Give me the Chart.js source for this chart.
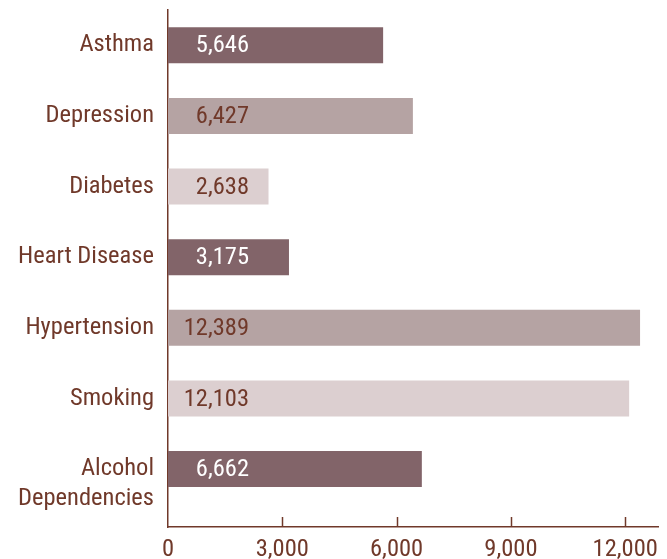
<!DOCTYPE html>
<html>
<head>
<meta charset="utf-8">
<script src="https://cdn.jsdelivr.net/npm/chart.js@4"></script>
<style>
  html, body { margin: 0; padding: 0; background: #fff; }
  #wrap { width: 667px; height: 559px; }
</style>
</head>
<body>
<div id="wrap"><canvas id="myChart"></canvas></div>
<script>
// conditions and counts
var labels = ['Asthma', 'Depression', 'Diabetes', 'Heart Disease', 'Hypertension', 'Smoking', 'Alcohol Dependencies'];
var counts = [5646, 6427, 2638, 3175, 12389, 12103, 6662];
var xTicks = [0, 3000, 6000, 9000, 12000];

var dark = '#826469';
var mid = '#b5a3a3';
var light = '#dccfd0';
var barColors = [dark, mid, light, dark, mid, light, dark];
var brown = '#70392a';
var fontName = "'Roboto Condensed', Roboto, sans-serif";
var fontSize = 24.5;

// value text inside each bar
var valueLabels = {
  id: 'valueLabels',
  afterDatasetsDraw(chart) {
    const ctx = chart.ctx;
    const meta = chart.getDatasetMeta(0);
    const x0 = chart.scales.x.getPixelForValue(0);
    ctx.save();
    ctx.font = fontSize + 'px ' + fontName;
    ctx.textAlign = 'right';
    ctx.textBaseline = 'middle';
    meta.data.forEach((bar, i) => {
      ctx.fillStyle = barColors[i] == dark ? '#ffffff' : brown;
      ctx.fillText(counts[i].toLocaleString('en-US'), x0 + 81, bar.y + 1);
    });
    ctx.restore();
  }
};

// small tick marks pointing up from the x axis
var innerTicks = {
  id: 'innerTicks',
  afterDraw(chart) {
    const ctx = chart.ctx;
    const xs = chart.scales.x;
    const bottom = chart.chartArea.bottom;
    ctx.save();
    ctx.strokeStyle = brown;
    ctx.lineWidth = 1.5;
    xTicks.forEach(v => {
      if (v == 0) return;
      const px = Math.round(xs.getPixelForValue(v)) + 0.5;
      ctx.beginPath();
      ctx.moveTo(px, bottom - 10);
      ctx.lineTo(px, bottom);
      ctx.stroke();
    });
    ctx.restore();
  }
};

var points = counts.map((v, i) => ({ x: v, y: i }));

var myChart = new Chart(document.getElementById('myChart').getContext('2d'), {
  type: 'bar',
  data: {
    datasets: [{
      data: points,
      backgroundColor: barColors,
      borderWidth: 0,
      categoryPercentage: 1,
      barPercentage: 0.51
    }]
  },
  options: {
    indexAxis: 'y',
    responsive: true,
    maintainAspectRatio: false,
    animation: false,
    layout: { padding: { top: 10, right: 9, left: 0, bottom: 0 } },
    plugins: {
      legend: { display: false },
      tooltip: { enabled: false }
    },
    scales: {
      x: {
        type: 'linear',
        min: 0,
        max: 12860,
        afterBuildTicks: s => { s.ticks = xTicks.map(v => ({ value: v })); },
        afterFit: s => { s.height = 32; },
        grid: { display: false, drawTicks: false },
        border: { display: true, color: brown, width: 1.5 },
        ticks: {
          padding: 8,
          color: brown,
          font: { family: fontName, size: fontSize },
          callback: v => v.toLocaleString('en-US')
        }
      },
      y: {
        type: 'linear',
        reverse: true,
        offset: false,
        min: -0.5,
        max: 6.82,
        afterBuildTicks: s => { s.ticks = labels.map((l, i) => ({ value: i })); },
        afterFit: s => { s.width = 168; s.paddingTop = 0; s.paddingBottom = 0; },
        grid: { display: false, drawTicks: false, offset: false },
        border: { display: true, color: brown, width: 1.5 },
        ticks: {
          padding: 14,
          autoSkip: false,
          color: brown,
          font: { family: fontName, size: fontSize, lineHeight: 1.22 },
          callback: v => v == 6 ? ['', 'Alcohol', 'Dependencies'] : labels[v]
        }
      }
    }
  },
  plugins: [valueLabels, innerTicks]
});
</script>
</body>
</html>
